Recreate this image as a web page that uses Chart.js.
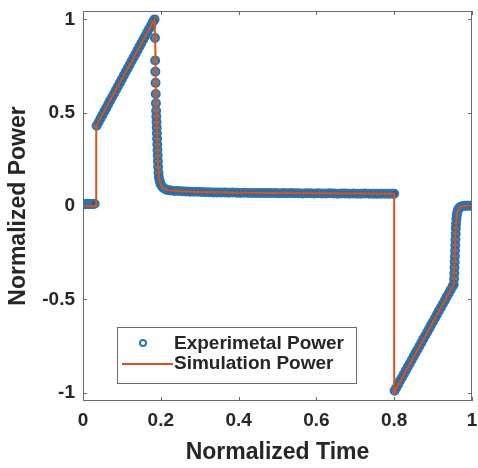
<!DOCTYPE html>
<html>
<head>
<meta charset="utf-8">
<script src="https://cdn.jsdelivr.net/npm/chart.js@4.4.1/dist/chart.umd.min.js"></script>
<style>
  html, body { margin: 0; padding: 0; background: #fff; }
  #wrap { width: 478px; height: 468px; }
</style>
</head>
<body>
<div id="wrap"><canvas id="myChart" width="478" height="468"></canvas></div>
<script>
// tick values
var xTicks = [0, 0.2, 0.4, 0.6, 0.8, 1];
var yTicks = [-1, -0.5, 0, 0.5, 1];

var expTime = [
    0, 0.005, 0.01, 0.015, 0.02, 0.025, 0.03,
    0.035, 0.04, 0.045, 0.05, 0.055, 0.06, 0.065, 0.07, 0.075, 0.08, 0.085, 0.09, 0.095, 0.1,
    0.105, 0.11, 0.115, 0.12, 0.125, 0.13, 0.135, 0.14, 0.145, 0.15, 0.155, 0.16, 0.165, 0.17,
    0.175, 0.18, 0.184,
    0.185, 0.1855, 0.186, 0.1865, 0.187, 0.1875, 0.188, 0.1885, 0.189, 0.1895, 0.19, 0.1905,
    0.191, 0.1915, 0.192, 0.1925, 0.193, 0.194, 0.195, 0.197, 0.199, 0.202, 0.206, 0.21, 0.215, 0.22,
    0.225, 0.235, 0.245, 0.255, 0.265, 0.275, 0.285, 0.295, 0.305, 0.315, 0.325, 0.335, 0.345,
    0.355, 0.365, 0.375, 0.385, 0.395, 0.405, 0.415, 0.425, 0.435, 0.445, 0.455, 0.465, 0.475,
    0.485, 0.495, 0.505, 0.515, 0.525, 0.535, 0.545, 0.555, 0.565, 0.575, 0.585, 0.595, 0.605,
    0.615, 0.625, 0.635, 0.645, 0.655, 0.665, 0.675, 0.685, 0.695, 0.705, 0.715, 0.725, 0.735,
    0.745, 0.755, 0.765, 0.775, 0.785, 0.795, 0.8,
    0.801, 0.805, 0.81, 0.815, 0.82, 0.825, 0.83, 0.835, 0.84, 0.845, 0.85, 0.855, 0.86, 0.865,
    0.87, 0.875, 0.88, 0.885, 0.89, 0.895, 0.9, 0.905, 0.91, 0.915, 0.92, 0.925, 0.93, 0.935,
    0.94, 0.945, 0.95, 0.953,
    0.954, 0.9545, 0.955, 0.9555, 0.956, 0.9565, 0.957, 0.9575, 0.958, 0.9585, 0.959, 0.96,
    0.961, 0.962, 0.964, 0.966, 0.969, 0.973, 0.978, 0.983, 0.988, 0.993, 0.998, 1.0
];
var expPower = [
    0.01, 0.01, 0.012, 0.01, 0.011, 0.01, 0.012,
    0.43, 0.449, 0.469, 0.488, 0.507, 0.526, 0.546, 0.565, 0.584, 0.603, 0.623, 0.642, 0.661, 0.68,
    0.7, 0.719, 0.738, 0.757, 0.777, 0.796, 0.815, 0.834, 0.854, 0.873, 0.892, 0.911, 0.931, 0.95,
    0.969, 0.988, 1.0,
    0.9, 0.78, 0.72, 0.66, 0.6, 0.55, 0.51, 0.48, 0.45, 0.42, 0.39, 0.36,
    0.33, 0.3, 0.27, 0.24, 0.21, 0.18, 0.155, 0.135, 0.12, 0.108, 0.098, 0.092, 0.087, 0.084,
    0.083, 0.081, 0.08, 0.079, 0.078, 0.077, 0.076, 0.076, 0.075, 0.074, 0.074, 0.073, 0.073,
    0.072, 0.072, 0.071, 0.072, 0.071, 0.07, 0.071, 0.07, 0.07, 0.069, 0.07, 0.069, 0.069,
    0.07, 0.069, 0.068, 0.069, 0.068, 0.069, 0.068, 0.068, 0.067, 0.068, 0.068, 0.067, 0.068,
    0.067, 0.067, 0.068, 0.067, 0.066, 0.067, 0.067, 0.066, 0.067, 0.066, 0.066, 0.067, 0.066,
    0.066, 0.065, 0.066, 0.066, 0.065, 0.066, 0.066,
    -0.99, -0.975, -0.956, -0.937, -0.919, -0.9, -0.881, -0.862, -0.844, -0.825, -0.806, -0.787, -0.769, -0.75,
    -0.731, -0.712, -0.694, -0.675, -0.656, -0.637, -0.619, -0.6, -0.581, -0.562, -0.544, -0.525, -0.506, -0.487,
    -0.469, -0.45, -0.431, -0.42,
    -0.39, -0.36, -0.33, -0.3, -0.27, -0.24, -0.21, -0.18, -0.15, -0.12, -0.095, -0.07,
    -0.05, -0.035, -0.022, -0.013, -0.007, -0.003, 0.0, 0.001, 0.002, 0.002, 0.002, 0.002
];

// simulated curve
var simTime = [0, 0.034, 0.034, 0.184, 0.186, 0.188, 0.19, 0.193, 0.195, 0.198, 0.202, 0.208, 0.215,
    0.225, 0.25, 0.3, 0.4, 0.5, 0.6, 0.7, 0.8, 0.8, 0.953, 0.955, 0.957, 0.959, 0.962, 0.966, 0.972, 0.98, 1.0];
var simPower = [0, 0, 0.43, 1.0, 0.84, 0.51, 0.39, 0.21, 0.155, 0.125, 0.105, 0.093, 0.087,
    0.083, 0.079, 0.075, 0.071, 0.069, 0.068, 0.067, 0.066, -1.0, -0.42, -0.3, -0.18, -0.09, -0.035, -0.013, -0.003, 0.0, 0.002];

var legendLabels = ['Experimetal Power', 'Simulation Power'];

var expColor = '#2a74b3';
var expFill = 'rgba(62,84,108,0.75)';
var simColor = '#D95319';
var axisColor = '#262626';
var fontFamily = "'Liberation Sans', Arial, sans-serif";

var toPoints = function (xs, ys) {
    return xs.map(function (x, i) { return {x: x, y: ys[i]}; });
};

// box around the axes, inward ticks on all four sides, and the legend
var boxPlugin = {
    id: 'boxPlugin',
    afterDraw: function (chart) {
        var ctx = chart.ctx, ca = chart.chartArea;
        var xs = chart.scales.x, ys = chart.scales.y;
        var tl = 4;
        ctx.save();
        ctx.strokeStyle = '#6b6b6b';
        ctx.lineWidth = 1;
        ctx.strokeRect(ca.left + 0.5, ca.top + 0.5, ca.right - ca.left - 1, ca.bottom - ca.top - 1);
        ctx.beginPath();
        xTicks.forEach(function (v) {
            var px = Math.round(xs.getPixelForValue(v)) + 0.5;
            ctx.moveTo(px, ca.bottom); ctx.lineTo(px, ca.bottom - tl);
            ctx.moveTo(px, ca.top); ctx.lineTo(px, ca.top + tl);
        });
        yTicks.forEach(function (v) {
            var py = Math.round(ys.getPixelForValue(v)) + 0.5;
            ctx.moveTo(ca.left, py); ctx.lineTo(ca.left + tl, py);
            ctx.moveTo(ca.right, py); ctx.lineTo(ca.right - tl, py);
        });
        ctx.stroke();

        // legend
        var lx = ca.left + 34, ly = ca.top + 316, lw = 239, lh = 56;
        ctx.fillStyle = '#ffffff';
        ctx.fillRect(lx, ly, lw, lh);
        ctx.strokeStyle = '#6b6b6b';
        ctx.strokeRect(lx + 0.5, ly + 0.5, lw, lh);
        ctx.strokeStyle = expColor;
        ctx.lineWidth = 2;
        ctx.beginPath();
        ctx.arc(lx + 26, ly + 16, 3, 0, Math.PI * 2);
        ctx.stroke();
        ctx.strokeStyle = simColor;
        ctx.lineWidth = 2;
        ctx.beginPath();
        ctx.moveTo(lx + 5, ly + 37); ctx.lineTo(lx + 56, ly + 37);
        ctx.stroke();
        ctx.fillStyle = axisColor;
        ctx.font = 'bold 19px ' + fontFamily;
        ctx.textBaseline = 'middle';
        ctx.textAlign = 'left';
        ctx.fillText(legendLabels[0], lx + 57, ly + 17);
        ctx.fillText(legendLabels[1], lx + 57, ly + 37);
        ctx.restore();
    }
};

var plainLabel = function (value) {
    return String(value);
};

var ctx = document.getElementById('myChart').getContext('2d');
var myChart = new Chart(ctx, {
    type: 'scatter',
    data: {
        datasets: [
            {
                label: legendLabels[1],
                data: toPoints(simTime, simPower),
                showLine: true,
                borderColor: simColor,
                borderWidth: 2,
                pointRadius: 0,
                fill: false,
                order: 0
            },
            {
                label: legendLabels[0],
                data: toPoints(expTime, expPower),
                showLine: false,
                pointRadius: 4,
                pointBorderWidth: 2,
                pointBorderColor: expColor,
                pointBackgroundColor: expFill,
                order: 1
            }
        ]
    },
    options: {
        responsive: false,
        animation: false,
        layout: { padding: { top: 11, right: 2, left: 0, bottom: 0 } },
        plugins: {
            legend: { display: false },
            tooltip: { enabled: false }
        },
        scales: {
            x: {
                type: 'linear',
                min: 0,
                max: 1,
                afterBuildTicks: function (scale) {
                    scale.ticks = xTicks.map(function (v) { return {value: v}; });
                },
                afterFit: function (scale) {
                    scale.height = 67;
                    scale.paddingLeft = 0;
                    scale.paddingRight = 0;
                },
                grid: { display: false, drawTicks: false },
                border: { display: false },
                ticks: {
                    padding: 8,
                    maxRotation: 0,
                    color: axisColor,
                    callback: plainLabel,
                    font: { family: fontFamily, size: 19, weight: 'bold' }
                },
                title: {
                    display: true,
                    text: 'Normalized Time',
                    color: axisColor,
                    padding: { top: 0, bottom: 2 },
                    font: { family: fontFamily, size: 23, weight: 'bold' }
                }
            },
            y: {
                type: 'linear',
                min: -1.045,
                max: 1.045,
                afterBuildTicks: function (scale) {
                    scale.ticks = yTicks.map(function (v) { return {value: v}; });
                },
                afterFit: function (scale) {
                    scale.width = 83;
                    scale.paddingTop = 0;
                    scale.paddingBottom = 0;
                },
                grid: { display: false, drawTicks: false },
                border: { display: false },
                ticks: {
                    padding: 8,
                    color: axisColor,
                    callback: plainLabel,
                    font: { family: fontFamily, size: 19, weight: 'bold' }
                },
                title: {
                    display: true,
                    text: 'Normalized Power',
                    color: axisColor,
                    padding: { top: 5, bottom: 0 },
                    font: { family: fontFamily, size: 23, weight: 'bold' }
                }
            }
        }
    },
    plugins: [boxPlugin]
});
</script>
</body>
</html>
